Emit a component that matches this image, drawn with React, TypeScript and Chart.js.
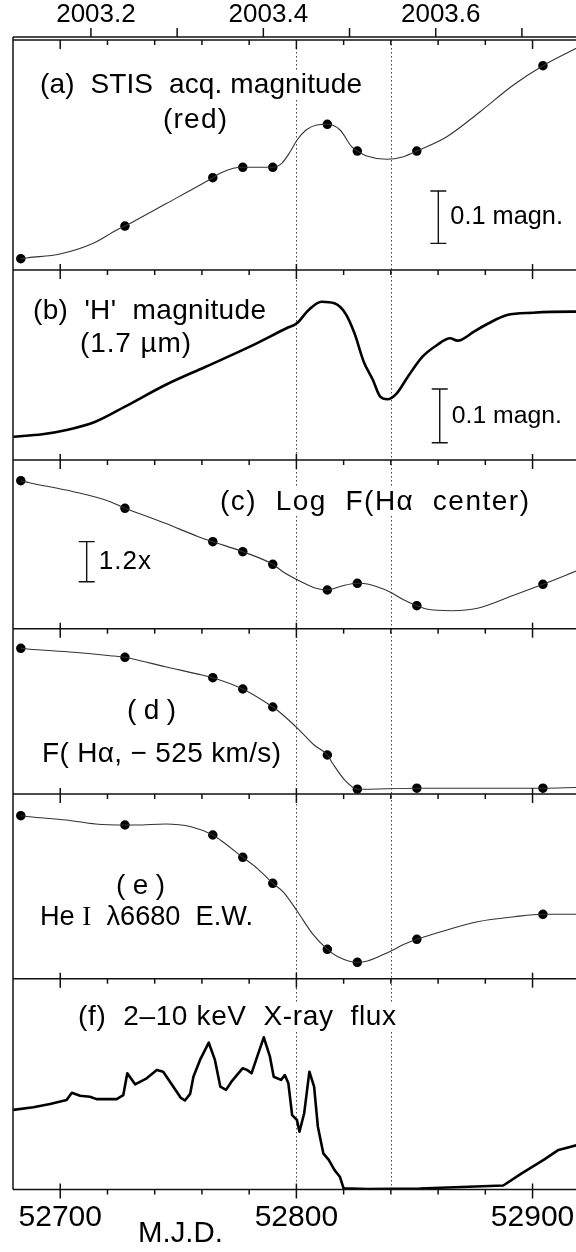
import React, { useEffect, useRef } from 'react';
import { Chart, registerables } from 'chart.js';

Chart.register(...registerables);

const SANS = "'Liberation Sans', Arial, Helvetica, sans-serif";
const SERIF = "'Liberation Serif', 'Times New Roman', serif";

// ---------- axes ----------
const MJD_MIN = 52680;
const MJD_MAX = 52918.4;
const MJD_STEP = 20;
const MJD_LABEL_EVERY = 100;
const YEAR_ZERO_MJD = 52640; // MJD of 2003.0
const YEAR_ZERO = 2003;
const DAYS_PER_YEAR = 365;
const YEAR_STEP = 0.1;
const markerMJD = [52800, 52840];

// ---------- observation epochs (dots) ----------
const obsMJD = [52683.3, 52727.4, 52764.6, 52777.3, 52790.0, 52813.1, 52825.8, 52851.0, 52904.4];
const aMag = [0.0216, 0.0841, 0.1765, 0.1964, 0.1964, 0.2786, 0.2275, 0.2275, 0.3906];
const cLogF = [0.2930, 0.2384, 0.1723, 0.1525, 0.1275, 0.0766, 0.0899, 0.0455, 0.0879];
const dFlux = [1.457, 1.367, 1.163, 1.050, 0.870, 0.390, 0.048, 0.058, 0.058];
const eEW = [1.630, 1.537, 1.437, 1.214, 0.954, 0.294, 0.164, 0.394, 0.644];

// ---------- traced curves ----------
const aTraceMJD = [52686.5, 52699.9, 52714.0, 52723.9, 52730.9, 52745.1, 52759.2, 52767.7, 52773.3, 52793.8, 52797.3, 52800.3, 52804.1, 52808.6, 52818.5, 52823.4, 52829.8, 52838.2, 52845.3, 52863.7, 52877.8, 52891.9, 52919.0];
const aTraceMag = [0.0235, 0.0306, 0.0511, 0.0765, 0.0924, 0.1275, 0.1625, 0.1849, 0.1945, 0.2040, 0.2256, 0.2486, 0.2677, 0.2772, 0.2677, 0.2358, 0.2180, 0.2117, 0.2166, 0.2549, 0.3027, 0.3537, 0.4250];

const bMJD = [52680.1, 52692.4, 52702.7, 52714.9, 52727.4, 52744.5, 52761.6, 52780.3, 52795.8, 52800.2, 52805.2, 52810.6, 52816.1, 52820.7, 52824.6, 52828.5, 52832.4, 52835.5, 52838.6, 52842.5, 52847.2, 52853.4, 52859.6, 52865.1, 52868.2, 52869.7, 52875.2, 52881.4, 52889.2, 52900.1, 52917.1, 52919.0];
const bMag = [0.0434, 0.0479, 0.0559, 0.0713, 0.0993, 0.1397, 0.1737, 0.2110, 0.2453, 0.2546, 0.2793, 0.2948, 0.2918, 0.2732, 0.2359, 0.1831, 0.1490, 0.1179, 0.1130, 0.1242, 0.1551, 0.1924, 0.2142, 0.2266, 0.2222, 0.2235, 0.2389, 0.2546, 0.2700, 0.2743, 0.2762, 0.2762];

const cTraceMJD = [52686.9, 52705.6, 52721.2, 52731.3, 52744.5, 52758.5, 52794.3, 52802.0, 52808.3, 52819.2, 52830.1, 52839.4, 52845.6, 52855.0, 52865.9, 52876.7, 52892.3, 52919.0];
const cTraceLogF = [0.2891, 0.2713, 0.2515, 0.2317, 0.2087, 0.1822, 0.1129, 0.0931, 0.0800, 0.0845, 0.0885, 0.0733, 0.0568, 0.0390, 0.0356, 0.0404, 0.0667, 0.1150];

const dTraceMJD = [52686.2, 52705.6, 52721.2, 52731.3, 52744.5, 52760.0, 52792.7, 52800.5, 52807.5, 52815.3, 52820.7, 52919.0];
const dTraceFlux = [1.450, 1.417, 1.383, 1.347, 1.273, 1.190, 0.823, 0.657, 0.490, 0.307, 0.133, 0.065];

const eTraceMJD = [52686.9, 52702.5, 52714.9, 52732.0, 52744.5, 52755.4, 52767.8, 52783.4, 52794.3, 52800.5, 52806.7, 52817.6, 52830.1, 52839.4, 52845.6, 52861.2, 52876.7, 52892.3, 52919.0];
const eTraceEW = [1.620, 1.587, 1.547, 1.537, 1.547, 1.520, 1.387, 1.104, 0.870, 0.670, 0.454, 0.220, 0.177, 0.270, 0.344, 0.470, 0.570, 0.620, 0.644];

const fMJD = [52680.1, 52688.6, 52695.7, 52702.7, 52704.9, 52708.4, 52712.6, 52715.4, 52723.9, 52726.7, 52728.4, 52731.7, 52736.6, 52740.9, 52743.6, 52747.9, 52751.1, 52752.8, 52755.0, 52756.4, 52759.2, 52762.9, 52765.5, 52767.8, 52770.2, 52772.5, 52777.2, 52779.1, 52781.0, 52783.4, 52786.2, 52788.8, 52790.4, 52793.5, 52795.1, 52796.6, 52798.2, 52800.2, 52801.3, 52803.3, 52805.5, 52807.5, 52809.1, 52811.4, 52813.7, 52816.1, 52818.4, 52820.0, 52830.1, 52852.3, 52887.6, 52895.4, 52904.7, 52911.0, 52919.0];
const fRate = [19.9, 20.55, 21.4, 22.4, 24.2, 23.45, 23.2, 22.6, 22.6, 23.6, 29.05, 26.3, 27.8, 29.9, 29.45, 25.7, 22.9, 22.25, 23.9, 28.2, 32.4, 36.7, 32.4, 25.7, 24.9, 26.95, 30.3, 29.9, 29.05, 33.2, 38.05, 33.2, 28.2, 27.4, 28.6, 26.55, 18.6, 17.4, 14.45, 19.05, 29.45, 25.7, 15.7, 9.05, 7.4, 4.9, 3.2, 0.3, 0.12, 0.25, 1.0, 4.05, 7.4, 9.9, 11.1];

// ---------- panel value ranges ----------
const panelIds = ['ya', 'yb', 'yc', 'yd', 'ye', 'yf'];
const panelMin = [0, 0, 0, 0, 0, 0];
const panelMax = [0.4398, 0.3538, 0.334, 1.653, 1.847, 52.7];

// ---------- scale bars ----------
const barAxis = ['ya', 'yb', 'yc'];
const barMJD = [52860.1, 52860.7, 52711.2];
const barFrom = [0.051, 0.0322, 0.0931];
const barSize = [0.1, 0.1, 0.0792]; // 0.1 mag, 0.1 mag, log10(1.2)
const barLabel = ['0.1 magn.', '0.1 magn.', '1.2x'];

// ---------- layout / style (not data) ----------
const PANEL_HEIGHTS = [230, 190, 168.7, 165.3, 184.7, 210.8];
const BAR_LABEL_RIGHT = [563, 562, 151];
const LABEL_SIZE = 28;
const LABELS: any[] = [
  { parts: [{ t: '(a)  STIS  acq. magnitude' }], x0: 40, x1: 362, cy: 85, size: LABEL_SIZE },
  { parts: [{ t: '(red)' }], x0: 163, x1: 227, cy: 120, size: LABEL_SIZE },
  { parts: [{ t: "(b)  'H'  magnitude" }], x0: 33, x1: 266, cy: 311, size: LABEL_SIZE },
  { parts: [{ t: '(1.7 µm)' }], x0: 80, x1: 191, cy: 344, size: LABEL_SIZE },
  { parts: [{ t: '(c)  Log  F(Hα  center)' }], x0: 220, x1: 529, cy: 502, size: LABEL_SIZE },
  { parts: [{ t: '(d)' }], x0: 127, x1: 176, cy: 711, size: LABEL_SIZE },
  { parts: [{ t: 'F( Hα, − 525 km/s)' }], x0: 42, x1: 281, cy: 754, size: LABEL_SIZE },
  { parts: [{ t: '(e)' }], x0: 116, x1: 165, cy: 886, size: LABEL_SIZE },
  { parts: [{ t: 'He ' }, { t: 'I', serif: true }, { t: '  λ6680  E.W.' }], x0: 40, x1: 253, cy: 918, size: LABEL_SIZE },
  { parts: [{ t: '(f)  2–10 keV  X-ray  flux' }], x0: 78, x1: 396, cy: 1017, size: LABEL_SIZE },
  { parts: [{ t: 'M.J.D.' }], x0: 138, x1: 223, cy: 1234, size: 30 },
];

const yearOf = (mjd: number) => YEAR_ZERO + (mjd - YEAR_ZERO_MJD) / DAYS_PER_YEAR;

function pts(xs: number[], ys: number[]) {
  return xs.map((x, i) => ({ x, y: ys[i] }));
}
function merged(x1: number[], y1: number[], x2: number[], y2: number[]) {
  return pts([...x1, ...x2], [...y1, ...y2]).sort((p, q) => p.x - q.x);
}

function drawRich(ctx: any, lab: any) {
  const fontOf = (p: any) => `${lab.size}px ${p.serif ? SERIF : SANS}`;
  ctx.letterSpacing = '0px';
  let natural = 0;
  let chars = 0;
  lab.parts.forEach((p: any) => {
    ctx.font = fontOf(p);
    natural += ctx.measureText(p.t).width;
    chars += [...p.t].length;
  });
  let size = lab.size;
  let ls = chars > 1 ? (lab.x1 - lab.x0 - natural) / (chars - 1) : 0;
  if (ls < 0) {
    // shrink a little so that the text keeps inside its box
    size = lab.size * (lab.x1 - lab.x0) / natural;
    ls = 0;
  }
  const fontAt = (p: any) => `${size}px ${p.serif ? SERIF : SANS}`;
  ctx.textAlign = 'left';
  ctx.textBaseline = 'middle';
  ctx.fillStyle = '#000';
  let x = lab.x0;
  lab.parts.forEach((p: any) => {
    ctx.font = fontAt(p);
    ctx.letterSpacing = ls + 'px';
    ctx.fillText(p.t, x, lab.cy);
    x += ctx.measureText(p.t).width;
  });
  ctx.letterSpacing = '0px';
}

const decor = {
  id: 'panelDecor',
  beforeDatasetsDraw(chart: any) {
    const { ctx, chartArea } = chart;
    const xs = chart.scales.x;
    ctx.save();
    ctx.strokeStyle = '#444';
    ctx.lineWidth = 1;
    ctx.setLineDash([1.5, 2.5]);
    markerMJD.forEach((m) => {
      const px = Math.round(xs.getPixelForValue(m)) + 0.5;
      ctx.beginPath();
      ctx.moveTo(px, chartArea.top);
      ctx.lineTo(px, chartArea.bottom);
      ctx.stroke();
    });
    ctx.setLineDash([]);
    ctx.fillStyle = '#fff';
    LABELS.forEach((l) => {
      ctx.fillRect(l.x0 - 3, l.cy - l.size * 0.5, l.x1 - l.x0 + 6, l.size);
    });
    ctx.restore();
  },
  afterDatasetsDraw(chart: any) {
    const { ctx, chartArea } = chart;
    const xs = chart.scales.x;
    const x2 = chart.scales.x2;
    const right = chart.width;
    ctx.save();
    ctx.strokeStyle = '#111';
    ctx.lineWidth = 1.5;
    ctx.lineCap = 'butt';

    // horizontal lines: frame top, panel separators, bottom
    const lines = [chartArea.top, ...panelIds.slice(0, 5).map((id) => chart.scales[id].bottom), chartArea.bottom];
    lines.forEach((y) => {
      ctx.beginPath();
      ctx.moveTo(chartArea.left, y);
      ctx.lineTo(right, y);
      ctx.stroke();
    });
    // left frame
    ctx.beginPath();
    ctx.moveTo(chartArea.left, chartArea.top - 3);
    ctx.lineTo(chartArea.left, chartArea.bottom);
    ctx.stroke();

    // year axis line + ticks
    const yearY = chartArea.top - 3;
    ctx.beginPath();
    ctx.moveTo(chartArea.left, yearY);
    ctx.lineTo(right, yearY);
    ctx.stroke();
    x2.ticks.forEach((t: any) => {
      const px = x2.getPixelForValue(t.value);
      ctx.beginPath();
      ctx.moveTo(px, yearY - 9);
      ctx.lineTo(px, yearY);
      ctx.stroke();
    });

    // MJD ticks on every horizontal line
    xs.ticks.forEach((t: any) => {
      const px = xs.getPixelForValue(t.value);
      if (px < chartArea.left + 2) return;
      const major = Math.round(t.value) % MJD_LABEL_EVERY === 0;
      lines.forEach((y, i) => {
        const up = major && i > 0 ? 6 : 0;
        const down = major ? 9 : 5;
        ctx.beginPath();
        ctx.moveTo(px, y - up);
        ctx.lineTo(px, y + down);
        ctx.stroke();
      });
    });

    // scale bars
    ctx.lineWidth = 1.4;
    barAxis.forEach((id, i) => {
      const sc = chart.scales[id];
      const px = xs.getPixelForValue(barMJD[i]);
      const y0 = sc.getPixelForValue(barFrom[i]);
      const y1 = sc.getPixelForValue(barFrom[i] + barSize[i]);
      ctx.beginPath();
      ctx.moveTo(px, y0);
      ctx.lineTo(px, y1);
      ctx.moveTo(px - 8, y0);
      ctx.lineTo(px + 8, y0);
      ctx.moveTo(px - 8, y1);
      ctx.lineTo(px + 8, y1);
      ctx.stroke();
      drawRich(ctx, { parts: [{ t: barLabel[i] }], x0: px + 12, x1: BAR_LABEL_RIGHT[i], cy: (y0 + y1) / 2, size: 26 });
    });

    LABELS.forEach((l) => drawRich(ctx, l));
    ctx.restore();
  },
};

export default function App() {
  const ref = useRef<HTMLCanvasElement>(null);
  useEffect(() => {
    document.body.style.margin = '0';
    const thin = {
      borderColor: '#333',
      borderWidth: 1.1,
      pointRadius: 0,
      cubicInterpolationMode: 'monotone',
      fill: false,
    };
    const thick = {
      borderColor: '#000',
      borderWidth: 2.6,
      pointRadius: 0,
      cubicInterpolationMode: 'monotone',
      borderJoinStyle: 'round',
      fill: false,
    };
    const dots = {
      showLine: false,
      pointRadius: 6.5,
      pointBackgroundColor: '#000',
      pointBorderColor: '#fff',
      pointBorderWidth: 3.5,
    };
    const datasets: any[] = [
      { ...thin, yAxisID: 'ya', data: merged(aTraceMJD, aTraceMag, obsMJD, aMag) },
      { ...dots, yAxisID: 'ya', data: pts(obsMJD, aMag) },
      { ...thick, yAxisID: 'yb', data: pts(bMJD, bMag) },
      { ...thin, yAxisID: 'yc', data: merged(cTraceMJD, cTraceLogF, obsMJD, cLogF) },
      { ...dots, yAxisID: 'yc', data: pts(obsMJD, cLogF) },
      { ...thin, yAxisID: 'yd', data: merged(dTraceMJD, dTraceFlux, obsMJD, dFlux) },
      { ...dots, yAxisID: 'yd', data: pts(obsMJD, dFlux) },
      { ...thin, yAxisID: 'ye', data: merged(eTraceMJD, eTraceEW, obsMJD, eEW) },
      { ...dots, yAxisID: 'ye', data: pts(obsMJD, eEW) },
      { ...thick, cubicInterpolationMode: 'default', tension: 0, borderJoinStyle: 'round', yAxisID: 'yf', data: pts(fMJD, fRate) },
    ];

    const scales: any = {
      x: {
        type: 'linear',
        position: 'bottom',
        min: MJD_MIN,
        max: MJD_MAX,
        afterFit: (s: any) => { s.height = 62.5; },
        border: { display: false },
        grid: { display: true, drawOnChartArea: false, drawTicks: true, tickLength: 10, color: 'rgba(0,0,0,0)' },
        ticks: {
          stepSize: MJD_STEP,
          includeBounds: false,
          autoSkip: false,
          maxRotation: 0,
          minRotation: 0,
          padding: 0,
          color: '#000',
          font: { family: SANS, size: 30 },
          callback: (v: any) => (Math.round(v) % MJD_LABEL_EVERY === 0 ? String(Math.round(v)) : ''),
        },
      },
      x2: {
        type: 'linear',
        position: 'top',
        min: yearOf(MJD_MIN),
        max: yearOf(MJD_MAX),
        afterFit: (s: any) => { s.height = 40; },
        border: { display: false },
        grid: { display: true, drawOnChartArea: false, drawTicks: true, tickLength: 10, color: 'rgba(0,0,0,0)' },
        ticks: {
          stepSize: YEAR_STEP,
          includeBounds: false,
          autoSkip: false,
          maxRotation: 0,
          minRotation: 0,
          padding: 0,
          labelOffset: 5,
          color: '#000',
          font: { family: SANS, size: 26 },
          callback: (v: any) => (Math.round(v * 10) % 2 === 0 ? Number(v).toFixed(1) : ''),
        },
      },
    };
    panelIds.forEach((id, i) => {
      scales[id] = {
        type: 'linear',
        position: 'left',
        display: false,
        stack: 'panels',
        stackWeight: PANEL_HEIGHTS[i],
        weight: panelIds.length - i,
        min: panelMin[i],
        max: panelMax[i],
      };
    });

    const chart = new Chart(ref.current as HTMLCanvasElement, {
      type: 'line',
      data: { datasets },
      options: {
        animation: false,
        responsive: false,
        maintainAspectRatio: false,
        devicePixelRatio: 1,
        events: [],
        layout: { padding: { left: 13, right: 0, top: 0, bottom: 0 }, autoPadding: false },
        plugins: { legend: { display: false }, tooltip: { enabled: false } },
        scales,
      } as any,
      plugins: [decor],
    });
    return () => chart.destroy();
  }, []);
  return <canvas ref={ref} width={576} height={1252} style={{ display: 'block', width: 576, height: 1252 }} />;
}
